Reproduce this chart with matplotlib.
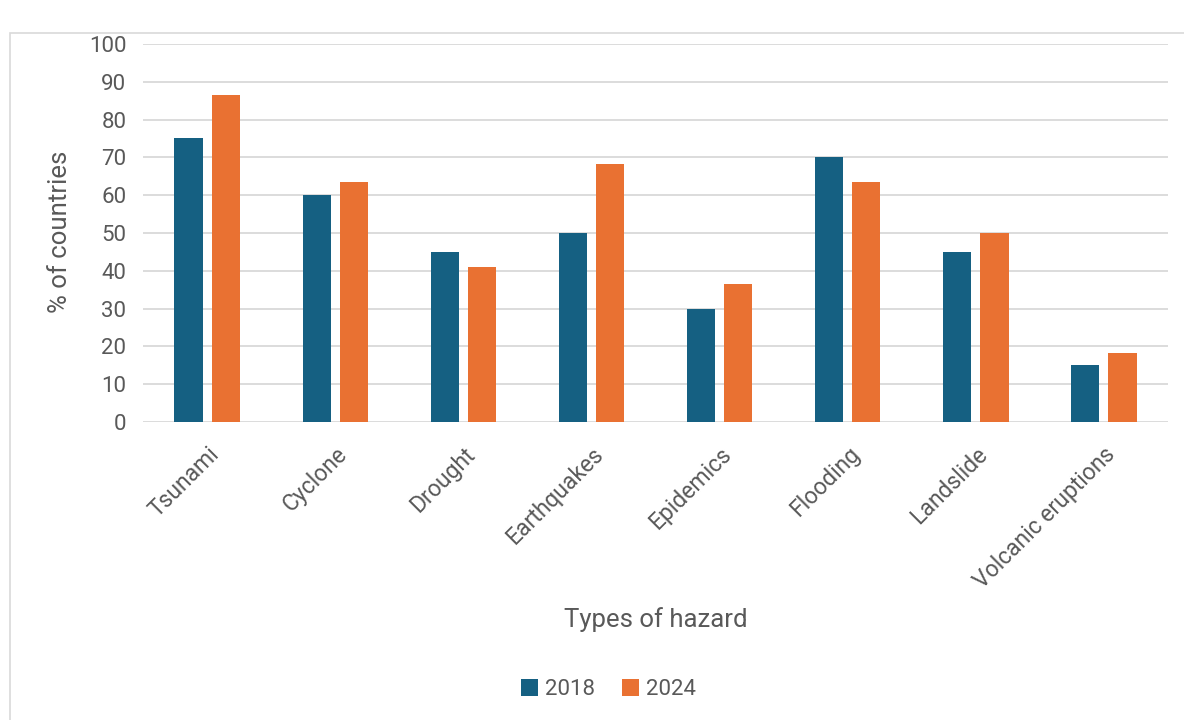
import matplotlib.pyplot as plt
import numpy as np
from matplotlib.patches import Rectangle

plt.rcParams['font.family'] = ['Roboto', 'DejaVu Sans']

hazards = ["Tsunami", "Cyclone", "Drought", "Earthquakes", "Epidemics",
           "Flooding", "Landslide", "Volcanic eruptions"]
pct_2018 = [75, 60, 45, 50, 30, 70, 45, 15]
pct_2024 = [86.4, 63.6, 40.9, 68.2, 36.4, 63.6, 50, 18.2]

blue = "#156082"
orange = "#e97132"
text_col = "#595959"
grid_col = "#d9d9d9"

fig = plt.figure(figsize=(11.84, 7.2), dpi=100)
ax = fig.add_axes([0.1208, 0.4139, 0.8657, 0.525])

# light frame around the chart area
fig.patches.append(Rectangle((10 / 1184, -0.01), 1.0, (720 - 33) / 720 + 0.01,
                             transform=fig.transFigure, fill=False,
                             edgecolor=grid_col, linewidth=1.2))

x = np.arange(len(hazards))
w = 0.22
ax.bar(x - 0.145, pct_2018, w, color=blue, label="2018", zorder=3)
ax.bar(x + 0.145, pct_2024, w, color=orange, label="2024", zorder=3)

ax.set_xlim(-0.5, len(hazards) - 0.5)
ax.set_ylim(0, 100)
ax.set_yticks(range(0, 101, 10))
ax.yaxis.grid(True, color=grid_col, linewidth=1.3, zorder=0)
for s in ax.spines.values():
    s.set_visible(False)
ax.tick_params(axis='both', length=0, colors=text_col, labelsize=16)
ax.tick_params(axis='y', pad=12)
ax.tick_params(axis='x', pad=15, labelsize=16.5)
ax.set_xticks(x)
ax.set_xticklabels(hazards, rotation=45, ha='right', va='top',
                   rotation_mode='anchor')

fig.text(60 / 1184, 0.678, "% of countries", rotation=90, ha='center',
         va='center', color=text_col, fontsize=18.5)
fig.text(0.554, 0.139, "Types of hazard", ha='center', va='center',
         color=text_col, fontsize=18.5)

leg = fig.legend(loc='center', bbox_to_anchor=(0.514, 0.042), ncol=2,
                 frameon=False, fontsize=16, handlelength=0.75,
                 handleheight=0.75, handletextpad=0.35, columnspacing=1.2)
for t in leg.get_texts():
    t.set_color(text_col)

fig.savefig("out.png", dpi=100)
